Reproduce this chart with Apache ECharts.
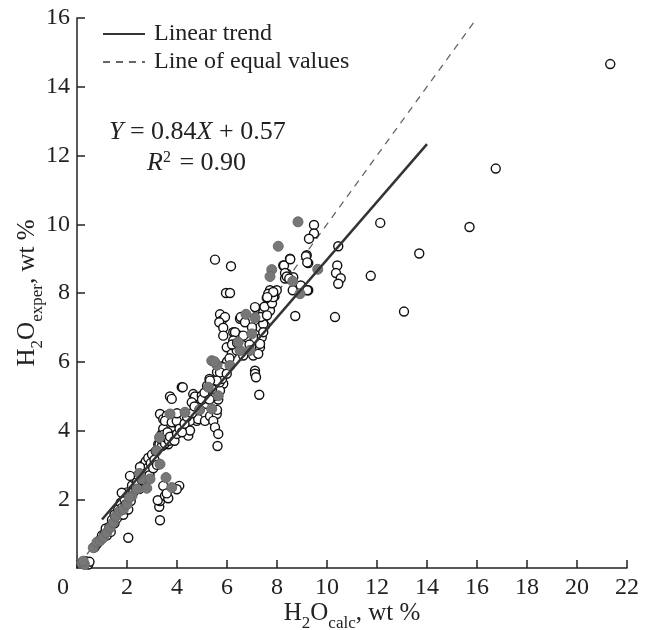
<!DOCTYPE html>
<html>
<head>
<meta charset="utf-8">
<script src="https://cdn.jsdelivr.net/npm/echarts@6/dist/echarts.min.js"></script>
<style>
  html, body { margin: 0; padding: 0; background: #fff; }
  #chart { width: 648px; height: 630px; }
</style>
</head>
<body>
<div id="chart"></div>
<script>
// open circles (x = H2O calc, y = H2O exper)
const openPoints = [
  [0.3, 0.12], [0.4, 0.15], [0.35, 0.2], [0.45, 0.1], [0.5, 0.18],
  [0.7, 0.6], [0.8, 0.7], [0.9, 0.8], [1.0, 0.95], [1.1, 1.0], [1.15, 1.15], [1.2, 0.95],
  [1.3, 1.2], [1.35, 1.05], [1.4, 1.4], [1.5, 1.3], [1.5, 1.55], [1.6, 1.45], [1.65, 1.7],
  [1.7, 1.6], [1.75, 1.9], [1.8, 1.75], [1.85, 1.55], [1.9, 2.0], [1.95, 1.85], [2.0, 2.2],
  [2.05, 1.7], [2.1, 2.1], [2.15, 1.95], [2.2, 2.4], [2.25, 2.2], [2.3, 2.6], [2.35, 2.35],
  [2.4, 2.5], [2.45, 2.7], [2.5, 2.3], [2.55, 2.8], [2.6, 2.55], [2.65, 3.0], [2.7, 2.75],
  [2.75, 3.1], [2.8, 2.9], [2.85, 3.2], [2.9, 2.7], [2.95, 3.05], [3.0, 3.3], [3.05, 2.9],
  [3.1, 3.15], [3.15, 3.4], [3.2, 3.0], [3.25, 3.6], [1.79, 2.19], [2.12, 2.68], [2.52, 2.94],
  [2.05, 0.88], [3.32, 1.39], [3.29, 1.78], [3.32, 1.95], [3.23, 1.97], [3.52, 2.1], [3.65, 2.03],
  [3.45, 2.39], [3.59, 2.17], [4.09, 2.39], [3.99, 2.29],
  [3.3, 3.6], [3.35, 3.75], [3.4, 3.9], [3.45, 3.65], [3.5, 3.8], [3.5, 4.0], [3.55, 3.7],
  [3.6, 3.85], [3.6, 4.05], [3.65, 3.6], [3.7, 3.9], [3.7, 4.1], [3.75, 3.75], [3.8, 4.0],
  [3.4, 3.55], [3.55, 3.95], [3.65, 3.8], [3.45, 4.05], [3.85, 3.85], [3.35, 3.85],
  [3.42, 3.72], [3.48, 3.88], [3.52, 3.62], [3.58, 3.78], [3.62, 3.95], [3.68, 3.7], [3.72, 3.82],
  [3.32, 4.48], [3.45, 4.33], [3.59, 4.43], [3.72, 4.99], [3.79, 4.92], [4.19, 5.26], [4.65, 5.06],
  [4.72, 4.99], [3.92, 4.24], [4.19, 4.09], [4.45, 3.85], [4.52, 4.0], [4.79, 4.28], [3.52, 4.28],
  [3.79, 4.24], [3.99, 4.28], [4.52, 4.28], [4.85, 4.33], [5.12, 4.28], [5.32, 4.42], [4.59, 4.82],
  [4.99, 5.01], [5.19, 4.77], [5.59, 4.48], [5.85, 5.36], [5.72, 5.16], [3.9, 3.7], [4.0, 3.9],
  [4.1, 4.05], [4.2, 3.95], [4.3, 4.2], [4.4, 4.4], [4.0, 4.5], [4.6, 4.5], [4.7, 4.7], [4.9, 4.6],
  [5.0, 4.9], [5.1, 5.1], [5.2, 5.3], [5.3, 5.5], [5.45, 4.28], [5.52, 4.09], [5.65, 3.9], [5.62, 3.55],
  [5.6, 4.6], [5.65, 4.9], [5.7, 5.4], [5.75, 5.6], [5.8, 5.5], [5.9, 5.9], [6.0, 6.0], [5.5, 5.0],
  [5.4, 5.2], [5.3, 4.9], [5.6, 5.7], [5.85, 5.84], [5.72, 5.69], [5.99, 5.65], [5.59, 5.45],
  [5.32, 5.45], [7.12, 5.74], [7.12, 5.65], [7.16, 5.55], [7.29, 5.04], [4.23, 5.26],
  [5.99, 6.42], [6.19, 6.23], [6.39, 6.33], [6.65, 6.18], [7.05, 6.18], [7.32, 6.42], [7.25, 6.23],
  [6.25, 6.86], [6.32, 6.71], [6.52, 6.76], [6.79, 6.71], [7.19, 6.91], [7.32, 7.0], [7.39, 6.71],
  [6.52, 7.25], [7.19, 7.54], [7.45, 7.44], [7.65, 7.49], [7.43, 7.2], [7.52, 7.05], [5.72, 7.38],
  [5.79, 7.2], [5.92, 7.3], [5.69, 7.15], [5.85, 6.99], [5.85, 6.76], [6.55, 7.3], [6.72, 7.15],
  [7.45, 7.1], [7.45, 6.86], [6.32, 6.86], [6.65, 6.76], [7.32, 6.52], [6.25, 6.62], [7.12, 7.59],
  [7.72, 7.49], [6.2, 6.5], [6.1, 6.1], [6.4, 6.55], [6.9, 6.5], [7.0, 7.0], [7.35, 7.3],
  [7.5, 7.6], [7.6, 7.35], [7.8, 7.7], [7.9, 7.9],
  [5.52, 8.97], [6.16, 8.78], [5.96, 8.0], [6.12, 8.0], [8.52, 9.0], [9.19, 9.1], [9.25, 8.87],
  [8.25, 8.8], [8.39, 8.56], [8.65, 8.46], [8.32, 8.42], [8.28, 8.8], [8.32, 8.58], [8.39, 8.48],
  [8.49, 8.42], [7.72, 8.08], [7.99, 8.08], [7.59, 7.86], [7.85, 7.88], [7.65, 7.98], [9.25, 8.08],
  [8.95, 8.22], [8.63, 8.08], [9.21, 8.08], [8.73, 7.33], [8.53, 8.98], [9.16, 9.07], [9.21, 8.89],
  [9.48, 9.98], [9.48, 9.73], [9.28, 9.58], [7.85, 8.03], [7.61, 7.88],
  [10.32, 7.3], [10.45, 9.36], [10.41, 8.8], [10.36, 8.58], [10.55, 8.43], [10.45, 8.27],
  [11.75, 8.5], [12.13, 10.04], [13.69, 9.15], [13.08, 7.46], [15.7, 9.92], [16.75, 11.62],
  [21.33, 14.66]
]

// grey filled circles
const greyPoints = [
  [0.19, 0.15], [0.3, 0.1], [0.25, 0.2], [0.65, 0.59], [0.8, 0.75], [0.92, 0.79], [1.05, 0.88],
  [1.19, 1.03], [1.32, 1.17], [1.45, 1.32], [1.55, 1.5], [1.7, 1.65], [1.85, 1.7], [2.0, 1.85],
  [2.2, 2.1], [2.4, 2.3], [2.6, 2.6], [2.79, 2.32], [2.92, 2.59], [3.19, 3.41], [3.32, 3.02],
  [3.56, 2.63], [3.79, 2.34], [3.3, 3.8], [3.72, 4.48], [4.32, 4.53], [5.25, 5.26], [5.65, 5.01],
  [5.39, 4.63], [5.39, 6.03], [6.12, 5.89], [6.52, 6.33], [6.92, 6.33], [6.45, 6.57], [6.76, 7.38],
  [7.12, 7.28], [6.99, 6.81], [7.79, 8.68], [7.72, 8.48], [8.05, 9.36], [8.84, 10.07], [9.63, 8.69],
  [8.63, 8.34], [8.92, 7.98], [5.6, 5.9], [5.5, 6.0], [4.9, 4.6], [2.5, 2.75], [2.1, 2.05]
]

// end points of the fitted line and of the 1:1 line
const trendLine = [[1.0, 1.41], [14.0, 12.33]]
const equalLine = [[0.4, 0.4], [16.0, 16.0]]

const xTicks = { min: 0, max: 22, interval: 2 }
const yTicks = { min: 0, max: 16, interval: 2 }

const serif = 'Liberation Serif'
const axisColor = '#222'

const subRich = {
  b: { fontFamily: serif, fontSize: 25, color: axisColor, lineHeight: 32, verticalAlign: 'middle' },
  s: { fontFamily: serif, fontSize: 17, color: axisColor, lineHeight: 32, verticalAlign: 'bottom', padding: [0, 0, -3, 0] }
}

const chart = echarts.init(document.getElementById('chart'))
chart.setOption({
  animation: false,
  backgroundColor: '#fff',
  textStyle: { fontFamily: serif },
  grid: { left: 77, right: 21, top: 18, bottom: 62, containLabel: false, outerBoundsMode: 'none' },
  legend: {
    data: ['Linear trend', 'Line of equal values'],
    orient: 'vertical',
    left: 102,
    top: 22,
    padding: 0,
    itemWidth: 42,
    itemHeight: 12,
    itemGap: 4,
    itemStyle: { opacity: 0 },
    textStyle: { fontFamily: serif, fontSize: 24, color: axisColor, padding: [0, 0, 0, 4] }
  },
  graphic: [
    {
      type: 'text',
      left: 109,
      top: 119,
      style: {
        text: '{i|Y} = 0.84{i|X} + 0.57',
        fontFamily: serif,
        fontSize: 26,
        fill: axisColor,
        rich: {
          i: { fontFamily: serif, fontSize: 26, fontStyle: 'italic', color: axisColor }
        }
      }
    },
    {
      type: 'text',
      left: 147,
      top: 150,
      style: {
        text: '{i|R}{sup|2} = 0.90',
        fontFamily: serif,
        fontSize: 26,
        fill: axisColor,
        rich: {
          i: { fontFamily: serif, fontSize: 26, fontStyle: 'italic', color: axisColor },
          sup: { fontFamily: serif, fontSize: 16, color: axisColor, verticalAlign: 'top', padding: [0, 2, 10, 0] }
        }
      }
    }
  ],
  xAxis: {
    type: 'value',
    min: xTicks.min,
    max: xTicks.max,
    interval: xTicks.interval,
    name: '{b|H}{s|2}{b|O}{s|calc}{b|, wt %}',
    nameLocation: 'middle',
    nameGap: 29,
    nameMoveOverlap: false,
    nameTextStyle: { rich: subRich },
    axisLine: { lineStyle: { color: axisColor, width: 1.5 } },
    axisTick: { inside: true, length: 8, lineStyle: { color: axisColor, width: 1.5 } },
    axisLabel: {
      fontFamily: serif,
      fontSize: 24,
      color: axisColor,
      margin: 8,
      formatter: v => (v === 0 ? '{z|0}' : String(v)),
      rich: { z: { fontFamily: serif, fontSize: 24, color: axisColor, padding: [0, 28, 0, 0] } }
    },
    splitLine: { show: false }
  },
  yAxis: {
    type: 'value',
    min: yTicks.min,
    max: yTicks.max,
    interval: yTicks.interval,
    name: '{b|H}{s|2}{b|O}{s|exper}{b|, wt %}',
    nameLocation: 'middle',
    nameGap: 34,
    nameMoveOverlap: false,
    nameTextStyle: { rich: subRich },
    axisLine: { show: true, lineStyle: { color: axisColor, width: 1.5 } },
    axisTick: { show: true, inside: true, length: 8, lineStyle: { color: axisColor, width: 1.5 } },
    axisLabel: { fontFamily: serif, fontSize: 24, color: axisColor, margin: 7, showMinLabel: false },
    splitLine: { show: false }
  },
  series: [
    {
      name: 'Line of equal values',
      type: 'line',
      data: equalLine,
      symbol: 'none',
      z: 1,
      lineStyle: { color: '#666', width: 1.3, type: [7, 6] },
      itemStyle: { color: '#666' }
    },
    {
      name: 'open',
      type: 'scatter',
      data: openPoints,
      symbolSize: 9,
      z: 2,
      itemStyle: { color: '#fff', borderColor: '#111', borderWidth: 1.4, opacity: 1 }
    },
    {
      name: 'grey',
      type: 'scatter',
      data: greyPoints,
      symbolSize: 10,
      z: 3,
      itemStyle: { color: '#777', borderColor: '#6a6a6a', borderWidth: 1, opacity: 1 }
    },
    {
      name: 'Linear trend',
      type: 'line',
      data: trendLine,
      symbol: 'none',
      z: 4,
      lineStyle: { color: '#333', width: 2.5 },
      itemStyle: { color: '#333' }
    }
  ]
})
</script>
</body>
</html>
